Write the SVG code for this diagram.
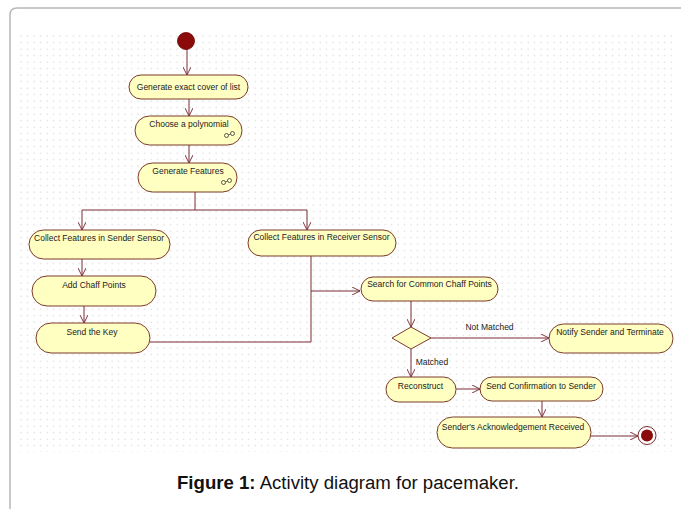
<svg xmlns="http://www.w3.org/2000/svg" width="681" height="509" viewBox="0 0 681 509">
<style>
.n{fill:#ffffc2;stroke:#7a3a2a;stroke-width:1}
.t{font-family:"Liberation Sans",Arial,sans-serif;font-size:8.5px;fill:#222;text-anchor:middle}
.c{fill:none;stroke:#7b2d36;stroke-width:1}
.cap{font-family:"Liberation Sans",Arial,sans-serif;font-size:18px;fill:#111}
</style>
<defs>
<pattern id="grid" x="18" y="33" width="6.5" height="6.5" patternUnits="userSpaceOnUse">
<rect x="2.5" y="2.5" width="1.3" height="1.3" fill="#d9d9d9"/>
</pattern>
<marker id="a" viewBox="0 0 10 10" refX="10" refY="5" markerWidth="8" markerHeight="8" orient="auto" markerUnits="userSpaceOnUse">
<path d="M0,0 L10,5 L0,10" fill="none" stroke="#7b2d36" stroke-width="1.2"/>
</marker>
</defs>
<rect width="681" height="509" fill="#fff"/>
<path d="M10,520 L10,15 Q10,8 17,8 L690,8" fill="none" stroke="#b8b8b8" stroke-width="1.5"/>
<rect x="18" y="33" width="658" height="419" fill="url(#grid)"/>

<g id="connectors">
<path class="c" d="M187,49 V75" marker-end="url(#a)"/>
<path class="c" d="M189,99 V116" marker-end="url(#a)"/>
<path class="c" d="M189,145 V163" marker-end="url(#a)"/>
<path class="c" d="M195,192 V210"/>
<path class="c" d="M82,210 H307"/>
<path class="c" d="M82,210 V230" marker-end="url(#a)"/>
<path class="c" d="M307,210 V230" marker-end="url(#a)"/>
<path class="c" d="M82,259 V276" marker-end="url(#a)"/>
<path class="c" d="M84,306 V323" marker-end="url(#a)"/>
<path class="c" d="M150,342 H311 V256"/>
<path class="c" d="M311,291 H360" marker-end="url(#a)"/>
<path class="c" d="M411,301 V327" marker-end="url(#a)"/>
<path class="c" d="M431,338 H549" marker-end="url(#a)"/>
<path class="c" d="M411,349 V377" marker-end="url(#a)"/>
<path class="c" d="M456,389 H480" marker-end="url(#a)"/>
<path class="c" d="M542,401 V417" marker-end="url(#a)"/>
<path class="c" d="M591,436 H638" marker-end="url(#a)"/>
<text class="t" x="489.5" y="330">Not Matched</text>
<text class="t" x="432" y="365">Matched</text>
</g>

<g id="start"><circle cx="186" cy="41" r="8.5" fill="#8b0a0a" stroke="#6a0000" stroke-width="0.8"/></g>

<g id="n1"><rect class="n" x="129" y="75" width="119" height="24" rx="12"/><text class="t" x="188.5" y="90">Generate exact cover of list</text></g>

<g id="n2"><rect class="n" x="135" y="116" width="107" height="29" rx="14.5"/><text class="t" x="189" y="127">Choose a polynomial</text>
<g fill="none" stroke="#333" stroke-width="0.8"><circle cx="226.5" cy="135.5" r="2"/><circle cx="232.5" cy="133.5" r="2"/><path d="M228.5,135 L230.5,134"/></g></g>

<g id="n3"><rect class="n" x="138" y="163" width="99" height="29" rx="14.5"/><text class="t" x="188" y="174">Generate Features</text>
<g fill="none" stroke="#333" stroke-width="0.8"><circle cx="223.5" cy="182.5" r="2"/><circle cx="229.5" cy="180.5" r="2"/><path d="M225.5,182 L227.5,181"/></g></g>

<g id="n4"><rect class="n" x="29" y="230" width="141" height="29" rx="14.5"/><text class="t" x="99" y="241">Collect Features in Sender Sensor</text></g>

<g id="n5"><rect class="n" x="248" y="230" width="148" height="26" rx="13"/><text class="t" x="321.5" y="240">Collect Features in Receiver Sensor</text></g>

<g id="n6"><rect class="n" x="32" y="276" width="124" height="30" rx="15"/><text class="t" x="94" y="288">Add Chaff Points</text></g>

<g id="n7"><rect class="n" x="36" y="323" width="114" height="30" rx="15"/><text class="t" x="92" y="335">Send the Key</text></g>

<g id="n8"><rect class="n" x="361" y="277" width="137" height="24" rx="12"/><text class="t" x="429.5" y="287">Search for Common Chaff Points</text></g>

<g id="decision"><path class="n" d="M411,327 L431,338 L411,349 L392,338 Z"/></g>

<g id="n9"><rect class="n" x="549" y="324" width="124" height="29" rx="14.5"/><text class="t" x="610" y="335">Notify Sender and Terminate</text></g>

<g id="n10"><rect class="n" x="386" y="377" width="70" height="25" rx="12.5"/><text class="t" x="420.5" y="389">Reconstruct</text></g>

<g id="n11"><rect class="n" x="480" y="377" width="123" height="24" rx="12"/><text class="t" x="541" y="389">Send Confirmation to Sender</text></g>

<g id="n12"><rect class="n" x="437" y="417" width="154" height="31" rx="15.5"/><text class="t" x="513" y="430">Sender's Acknowledgement Received</text></g>

<g id="end"><circle cx="647" cy="435.5" r="9" fill="#fff" stroke="#7a2a2a" stroke-width="1"/><circle cx="647" cy="435.5" r="6" fill="#8b0a0a"/></g>

<text class="cap" x="177" y="489" textLength="342" lengthAdjust="spacingAndGlyphs"><tspan font-weight="bold">Figure 1:</tspan> Activity diagram for pacemaker.</text>
</svg>
